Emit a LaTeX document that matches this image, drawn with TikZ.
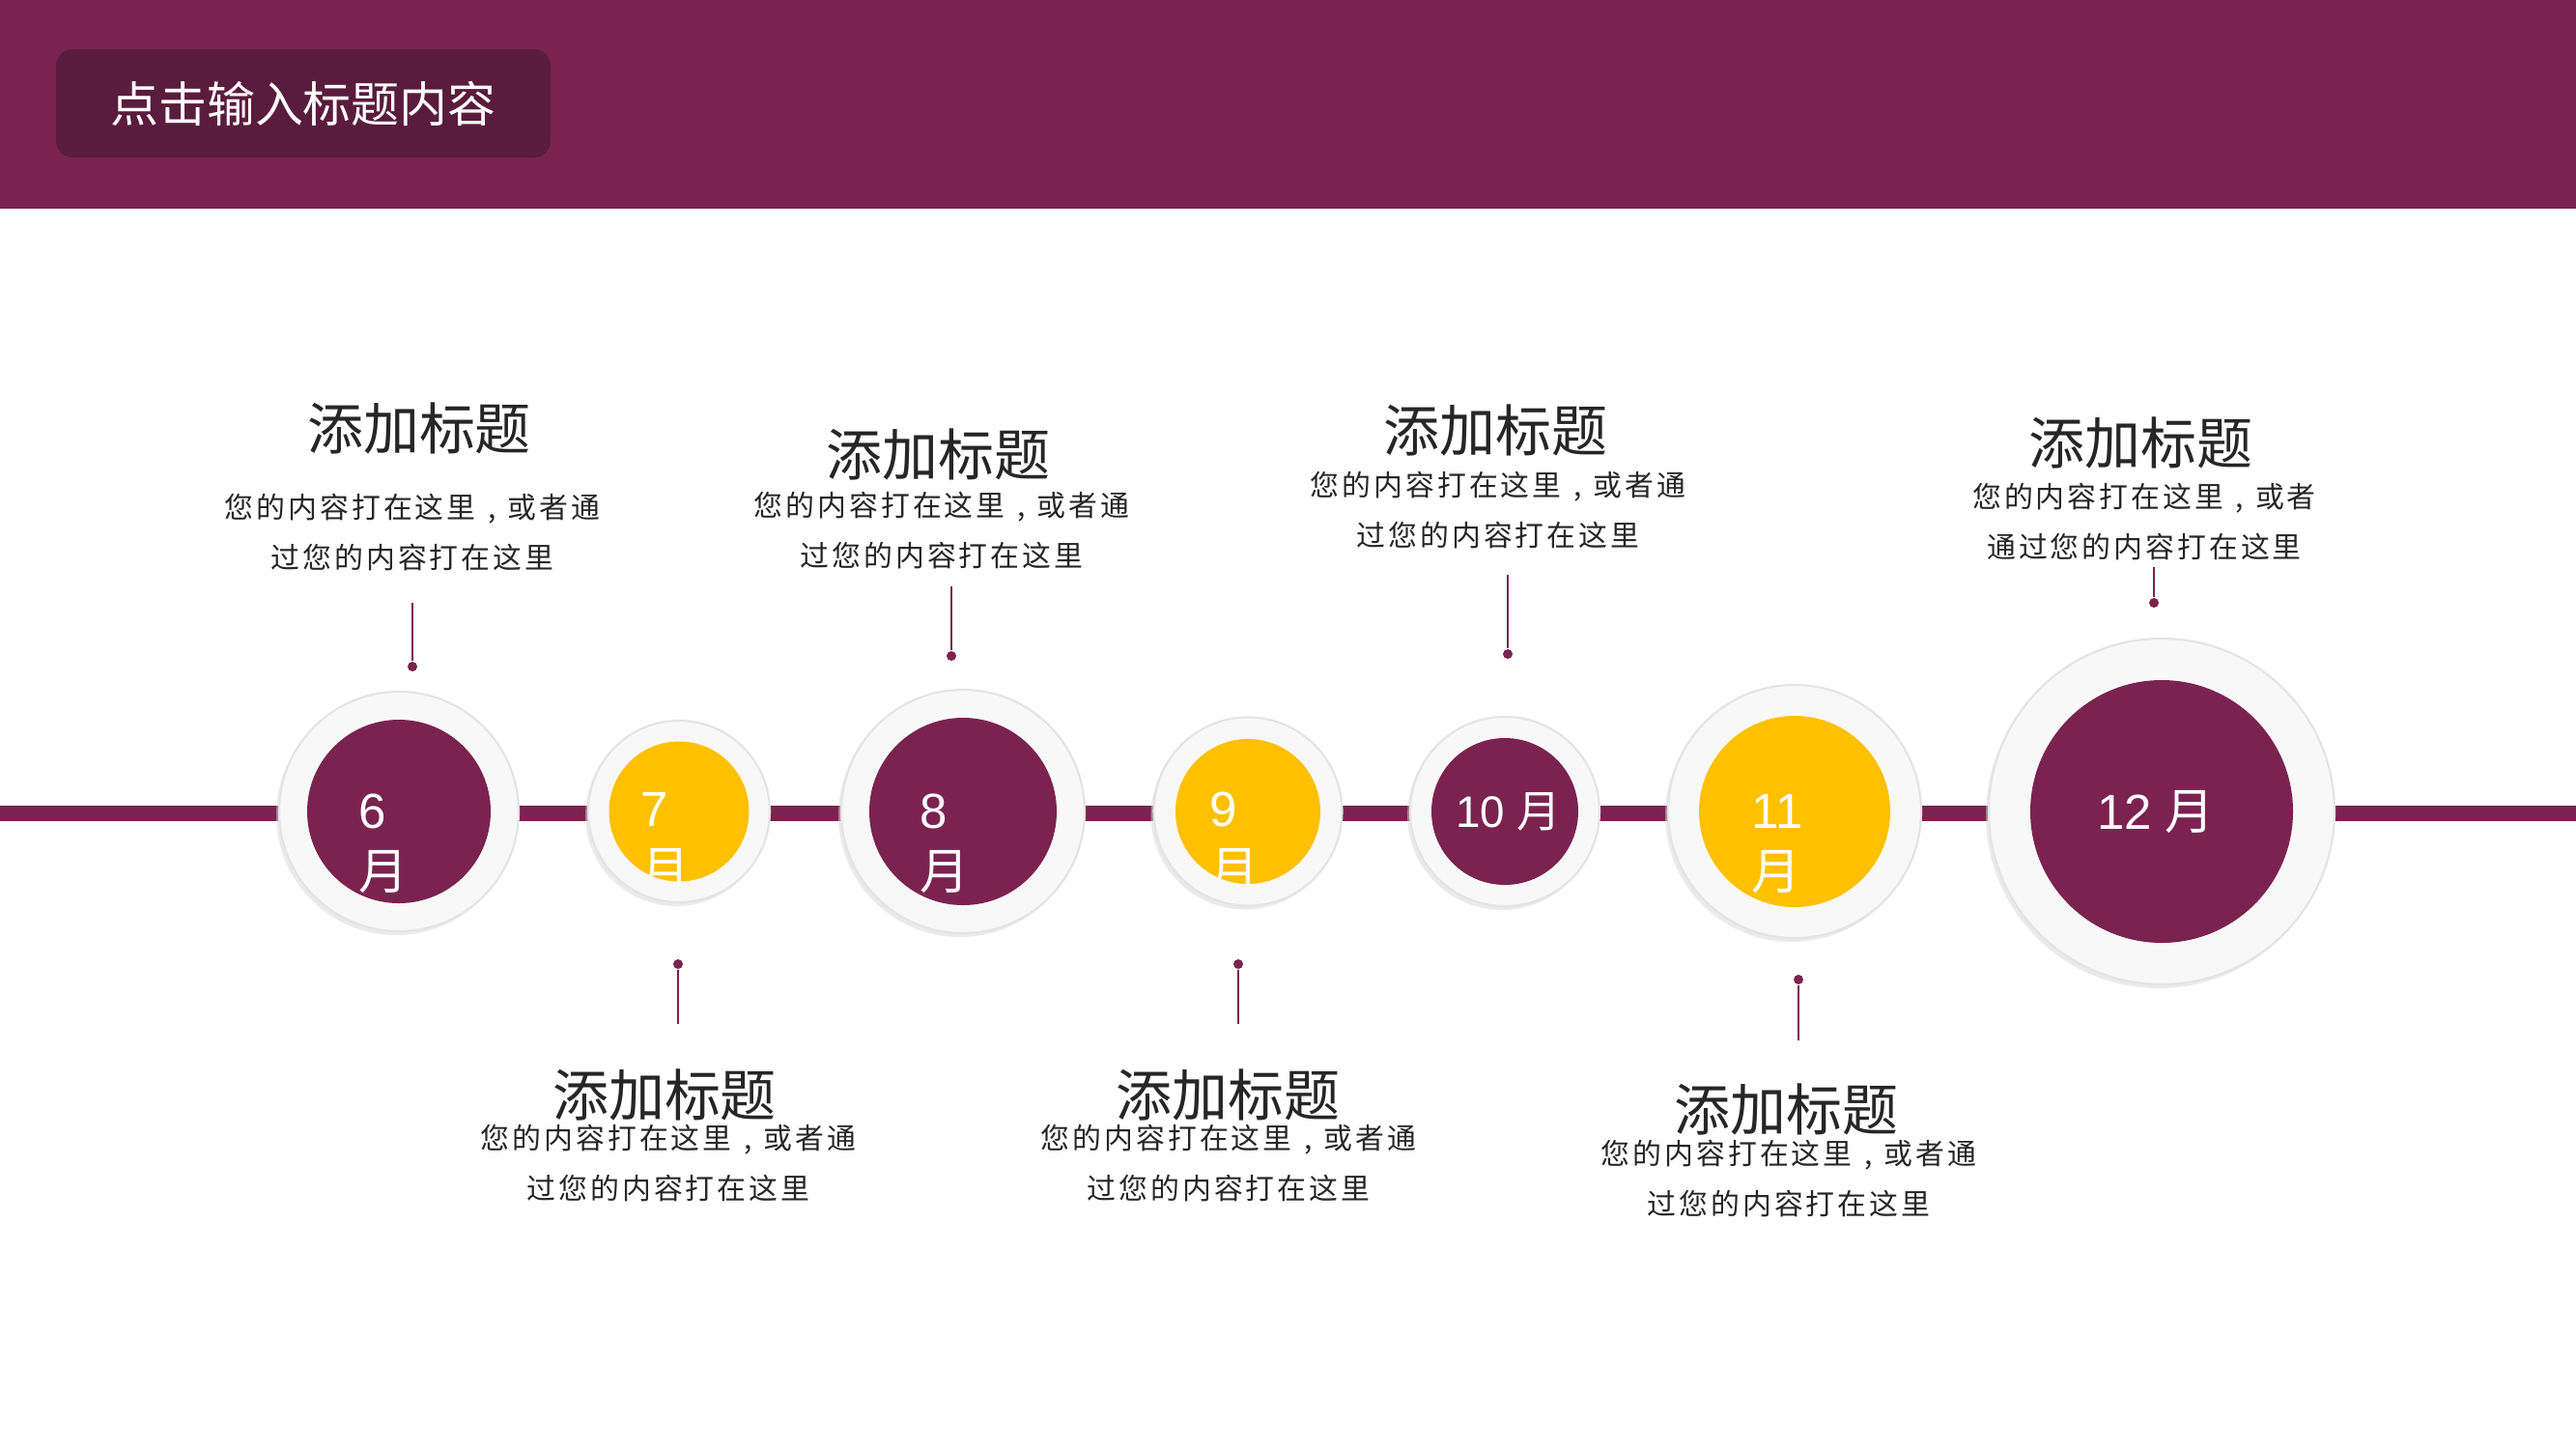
\documentclass[tikz,border=0pt]{standalone}
\usepackage{fontspec}
\setmainfont{Liberation Sans}
\newfontfamily\cjk{Noto Sans CJK SC}
\newfontfamily\cjkbody[LetterSpace=10]{Noto Sans CJK SC}
\newcommand\zcomma{\makebox[1.1em][c]{,}}
\usepackage{tikz}
\usetikzlibrary{calc,positioning,shadows}
\definecolor{plum}{HTML}{7B2350}
\definecolor{plumdark}{HTML}{5A1C3C}
\definecolor{gold}{HTML}{FFC000}
\definecolor{ink}{HTML}{262626}
\definecolor{ringfill}{HTML}{F8F8F8}
\definecolor{ringline}{HTML}{E4E4E4}

\begin{document}
\begin{tikzpicture}[
  ring/.style={circle,inner sep=0pt,fill=ringfill,draw=ringline,line width=0.6pt,
    drop shadow={shadow xshift=-0.03cm,shadow yshift=-0.04cm,fill=black!15,opacity=0.5}},
  core/.style={circle,inner sep=0pt},
  mnum/.style={text=white,inner sep=0pt,anchor=west,font=\fontsize{14.5pt}{17pt}\selectfont},
  heading/.style={text=ink,inner sep=0pt,font=\cjk\fontsize{16.5pt}{20pt}\selectfont},
  body/.style={text=ink,inner sep=0pt,align=center,font=\cjkbody\fontsize{8.5pt}{14.8pt}\selectfont},
  pin/.style={circle,fill=plum,inner sep=0pt,minimum size=0.1cm},
  stem/.style={plum,line width=0.7pt},
  titlebox/.style={fill=plumdark,rounded corners=0.17cm,text=white,inner sep=0pt,
    minimum width=5.12cm,minimum height=1.12cm,font=\cjk\fontsize{14.2pt}{17pt}\selectfont}
]
\path[use as bounding box] (0,0) rectangle (26.67,-15);
\fill[white] (0,0) rectangle (26.67,-15);
\fill[plum] (0,0) rectangle (26.67,-2.16);
\node[titlebox] (title) at (3.14,-1.07) {点击输入标题内容};

\coordinate (tl) at (0,-8.42);
\coordinate (tr) at (26.67,-8.42);
\draw[plum,line width=0.16cm] (tl) -- (tr);

\node[ring,minimum size=2.48cm] (r6) at (4.13,-8.40) {};
\node[ring,minimum size=1.88cm] (r7) at (7.03,-8.40) {};
\node[ring,minimum size=2.52cm] (r8) at (9.97,-8.40) {};
\node[ring,minimum size=1.95cm] (r9) at (12.92,-8.40) {};
\node[ring,minimum size=1.96cm] (r10) at (15.58,-8.40) {};
\node[ring,minimum size=2.62cm] (r11) at (18.58,-8.40) {};
\node[ring,minimum size=3.58cm] (r12) at (22.38,-8.40) {};

\node[core,fill=plum,minimum size=1.90cm] (c6) at (r6) {};
\node[core,fill=gold,minimum size=1.45cm] (c7) at (r7) {};
\node[core,fill=plum,minimum size=1.94cm] (c8) at (r8) {};
\node[core,fill=gold,minimum size=1.50cm] (c9) at (r9) {};
\node[core,fill=plum,minimum size=1.52cm] (c10) at (r10) {};
\node[core,fill=gold,minimum size=1.98cm] (c11) at (r11) {};
\node[core,fill=plum,minimum size=2.72cm] (c12) at (r12) {};

\begin{scope}
\clip (c6.center) circle (0.95);
\node[mnum] (n6) at ($(c6)+(-0.42,0)$) {6};
\node[mnum] (m6) at ($(n6.west)+(0,-0.62)$) {\cjk 月};
\end{scope}
\begin{scope}
\clip (c7.center) circle (0.725);
\node[mnum] (n7) at ($(c7)+(-0.40,0.02)$) {7};
\node[mnum] (m7) at ($(n7.west)+(0,-0.62)$) {\cjk 月};
\end{scope}
\begin{scope}
\clip (c8.center) circle (0.97);
\node[mnum] (n8) at ($(c8)+(-0.45,0)$) {8};
\node[mnum] (m8) at ($(n8.west)+(0,-0.62)$) {\cjk 月};
\end{scope}
\begin{scope}
\clip (c9.center) circle (0.75);
\node[mnum] (n9) at ($(c9)+(-0.40,0.02)$) {9};
\node[mnum] (m9) at ($(n9.west)+(0,-0.62)$) {\cjk 月};
\end{scope}
\node[text=white,inner sep=0pt,font=\fontsize{13pt}{15pt}\selectfont] (n10) at ($(c10)+(0.04,0)$) {10 {\cjk 月}};
\begin{scope}
\clip (c11.center) circle (0.99);
\node[mnum] (n11) at ($(c11)+(-0.45,0)$) {11};
\node[mnum] (m11) at ($(n11.west)+(0,-0.62)$) {\cjk 月};
\end{scope}
\node[text=white,inner sep=0pt,font=\fontsize{14.5pt}{17pt}\selectfont] (n12) at ($(c12)+(-0.06,0)$) {12 {\cjk 月}};

\node[heading] (h6) at (4.34,-4.43) {添加标题};
\node[body] (b6) at (4.27,-5.51) {您的内容打在这里\zcomma 或者通\\过您的内容打在这里};
\coordinate (s6) at (4.27,-6.24);
\node[pin] (p6) at (4.27,-6.90) {};
\draw[stem] (s6) -- (p6);

\node[heading] (h8) at (9.71,-4.70) {添加标题};
\node[body] (b8) at (9.75,-5.49) {您的内容打在这里\zcomma 或者通\\过您的内容打在这里};
\coordinate (s8) at (9.85,-6.07);
\node[pin] (p8) at (9.85,-6.79) {};
\draw[stem] (s8) -- (p8);

\node[heading] (h10) at (15.48,-4.45) {添加标题};
\node[body] (b10) at (15.51,-5.28) {您的内容打在这里\zcomma 或者通\\过您的内容打在这里};
\coordinate (s10) at (15.61,-5.95);
\node[pin] (p10) at (15.61,-6.77) {};
\draw[stem] (s10) -- (p10);

\node[heading] (h12) at (22.16,-4.58) {添加标题};
\node[body] (b12) at (22.20,-5.40) {您的内容打在这里\zcomma 或者\\通过您的内容打在这里};
\coordinate (s12) at (22.30,-5.87);
\node[pin] (p12) at (22.30,-6.24) {};
\draw[stem] (s12) -- (p12);

\node[pin] (p7) at (7.02,-9.98) {};
\coordinate (s7) at (7.02,-10.60);
\draw[stem] (p7) -- (s7);
\node[heading] (h7) at (6.88,-11.33) {添加标题};
\node[body] (b7) at (6.92,-12.04) {您的内容打在这里\zcomma 或者通\\过您的内容打在这里};

\node[pin] (p9) at (12.82,-9.98) {};
\coordinate (s9) at (12.82,-10.60);
\draw[stem] (p9) -- (s9);
\node[heading] (h9) at (12.71,-11.33) {添加标题};
\node[body] (b9) at (12.72,-12.04) {您的内容打在这里\zcomma 或者通\\过您的内容打在这里};

\node[pin] (p11) at (18.62,-10.14) {};
\coordinate (s11) at (18.62,-10.77);
\draw[stem] (p11) -- (s11);
\node[heading] (h11) at (18.49,-11.48) {添加标题};
\node[body] (b11) at (18.52,-12.20) {您的内容打在这里\zcomma 或者通\\过您的内容打在这里};
\end{tikzpicture}
\end{document}
